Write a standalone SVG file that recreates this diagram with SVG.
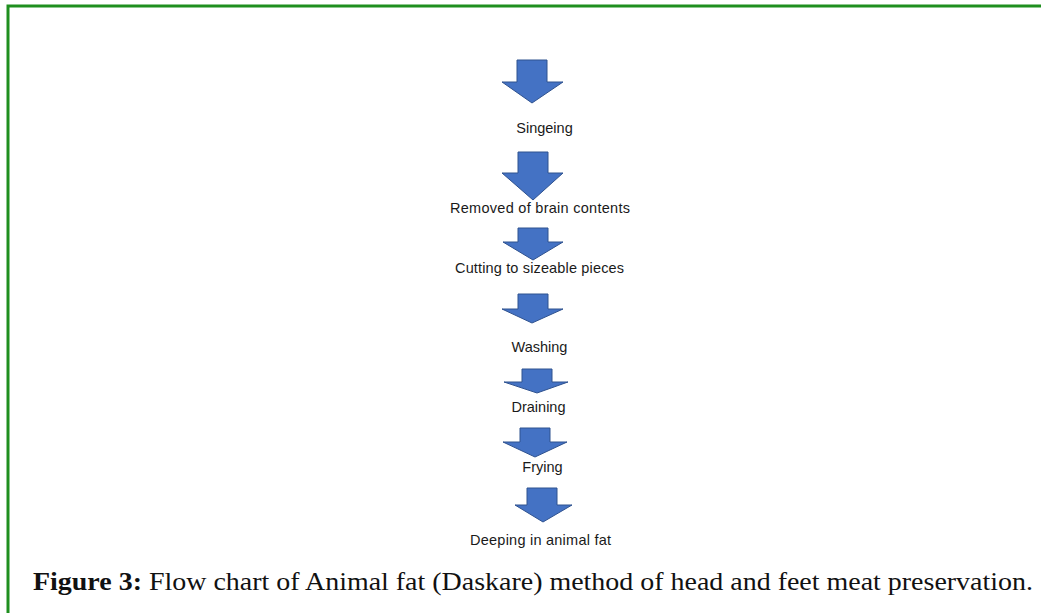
<svg xmlns="http://www.w3.org/2000/svg" width="1041" height="613" viewBox="0 0 1041 613">
<style>
.arrow{fill:#4472C4;stroke:#2F528F;stroke-width:1}
.lbl{font-family:"Liberation Sans",Arial,sans-serif;font-size:14.5px;fill:#1a1a1a;text-anchor:middle}
.cap{font-family:"Liberation Serif","Times New Roman",serif;font-size:25px;fill:#111}
</style>
<rect x="0" y="0" width="1041" height="613" fill="#ffffff"/>
<rect x="8" y="6" width="1060" height="640" fill="none" stroke="#1f8f1f" stroke-width="3"/>
<g id="connectors">
<polygon class="arrow" points="517,60 547,60 547,82 563,82 532,103 502,82 517,82"/>
<polygon class="arrow" points="518,152 548,152 548,173 563,173 533,200 502,173 518,173"/>
<polygon class="arrow" points="518,228 548,228 548,242 563,242 533,260 503,242 518,242"/>
<polygon class="arrow" points="518,294 548,294 548,309 563,309 532,323 502,309 518,309"/>
<polygon class="arrow" points="522,369 552,369 552,382 568,382 537,393 504,382 522,382"/>
<polygon class="arrow" points="520,428 550,428 550,442 567,442 535,457 503,442 520,442"/>
<polygon class="arrow" points="527,488 557,488 557,505 572,505 543,522 515,505 527,505"/>
</g>
<g id="n1"><text class="lbl" x="544.5" y="133">Singeing</text></g>
<g id="n2"><text class="lbl" x="540" y="213" textLength="180">Removed of brain contents</text></g>
<g id="n3"><text class="lbl" x="539.5" y="273" textLength="169">Cutting to sizeable pieces</text></g>
<g id="n4"><text class="lbl" x="539.5" y="352">Washing</text></g>
<g id="n5"><text class="lbl" x="538.5" y="412">Draining</text></g>
<g id="n6"><text class="lbl" x="542.5" y="472">Frying</text></g>
<g id="n7"><text class="lbl" x="540.5" y="545" textLength="141">Deeping in animal fat</text></g>
<g id="caption"><text class="cap" x="33" y="590" textLength="1000" lengthAdjust="spacingAndGlyphs"><tspan font-weight="bold">Figure 3:</tspan> Flow chart of Animal fat (Daskare) method of head and feet meat preservation.</text></g>
</svg>
